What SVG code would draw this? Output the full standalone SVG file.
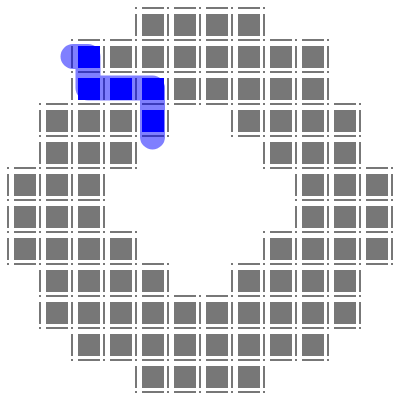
<svg xmlns="http://www.w3.org/2000/svg" width="395" height="395" viewBox="0 0 395 395">
<style>
.sq{fill:#777}
.sqb{fill:#0000ff}
.ln{stroke:#777;stroke-width:2;fill:none}
.path{fill:none;stroke:#0000ff;stroke-opacity:0.5;stroke-width:25;stroke-linecap:round;stroke-linejoin:round}
</style>
<defs>
<g id="edge">
<path class="ln" d="M6 0h22M6 32h22M0 6v22M32 6v22M-1 0h2M31 0h2M-1 32h2M31 32h2"/>
</g>
<g id="cell"><use href="#edge"/><rect class="sq" x="6" y="6" width="22" height="22"/></g>
<g id="cellb"><use href="#edge"/><rect class="sqb" x="6" y="6" width="22" height="22"/></g>
</defs>
<rect width="395" height="395" fill="#fff"/>
<g id="grid">
<g id="row0" transform="translate(0 8)">
<use href="#cell" x="136"/><use href="#cell" x="168"/><use href="#cell" x="200"/><use href="#cell" x="232"/>
</g>
<g id="row1" transform="translate(0 40)">
<use href="#cellb" x="72"/><use href="#cell" x="104"/><use href="#cell" x="136"/><use href="#cell" x="168"/><use href="#cell" x="200"/><use href="#cell" x="232"/><use href="#cell" x="264"/><use href="#cell" x="296"/>
</g>
<g id="row2" transform="translate(0 72)">
<use href="#cellb" x="72"/><use href="#cellb" x="104"/><use href="#cellb" x="136"/><use href="#cell" x="168"/><use href="#cell" x="200"/><use href="#cell" x="232"/><use href="#cell" x="264"/><use href="#cell" x="296"/>
</g>
<g id="row3" transform="translate(0 104)">
<use href="#cell" x="40"/><use href="#cell" x="72"/><use href="#cell" x="104"/><use href="#cellb" x="136"/>
<use href="#cell" x="232"/><use href="#cell" x="264"/><use href="#cell" x="296"/><use href="#cell" x="328"/>
</g>
<g id="row4" transform="translate(0 136)">
<use href="#cell" x="40"/><use href="#cell" x="72"/><use href="#cell" x="104"/>
<use href="#cell" x="264"/><use href="#cell" x="296"/><use href="#cell" x="328"/>
</g>
<g id="row5" transform="translate(0 168)">
<use href="#cell" x="8"/><use href="#cell" x="40"/><use href="#cell" x="72"/>
<use href="#cell" x="296"/><use href="#cell" x="328"/><use href="#cell" x="360"/>
</g>
<g id="row6" transform="translate(0 200)">
<use href="#cell" x="8"/><use href="#cell" x="40"/><use href="#cell" x="72"/>
<use href="#cell" x="296"/><use href="#cell" x="328"/><use href="#cell" x="360"/>
</g>
<g id="row7" transform="translate(0 232)">
<use href="#cell" x="8"/><use href="#cell" x="40"/><use href="#cell" x="72"/><use href="#cell" x="104"/>
<use href="#cell" x="264"/><use href="#cell" x="296"/><use href="#cell" x="328"/><use href="#cell" x="360"/>
</g>
<g id="row8" transform="translate(0 264)">
<use href="#cell" x="40"/><use href="#cell" x="72"/><use href="#cell" x="104"/><use href="#cell" x="136"/>
<use href="#cell" x="232"/><use href="#cell" x="264"/><use href="#cell" x="296"/><use href="#cell" x="328"/>
</g>
<g id="row9" transform="translate(0 296)">
<use href="#cell" x="40"/><use href="#cell" x="72"/><use href="#cell" x="104"/><use href="#cell" x="136"/><use href="#cell" x="168"/><use href="#cell" x="200"/><use href="#cell" x="232"/><use href="#cell" x="264"/><use href="#cell" x="296"/><use href="#cell" x="328"/>
</g>
<g id="row10" transform="translate(0 328)">
<use href="#cell" x="72"/><use href="#cell" x="104"/><use href="#cell" x="136"/><use href="#cell" x="168"/><use href="#cell" x="200"/><use href="#cell" x="232"/><use href="#cell" x="264"/><use href="#cell" x="296"/>
</g>
<g id="row11" transform="translate(0 360)">
<use href="#cell" x="136"/><use href="#cell" x="168"/><use href="#cell" x="200"/><use href="#cell" x="232"/>
</g>
</g>
<g id="connectors">
<path class="path" d="M73 56.5H88V88H152.5V137"/>
</g>
</svg>
